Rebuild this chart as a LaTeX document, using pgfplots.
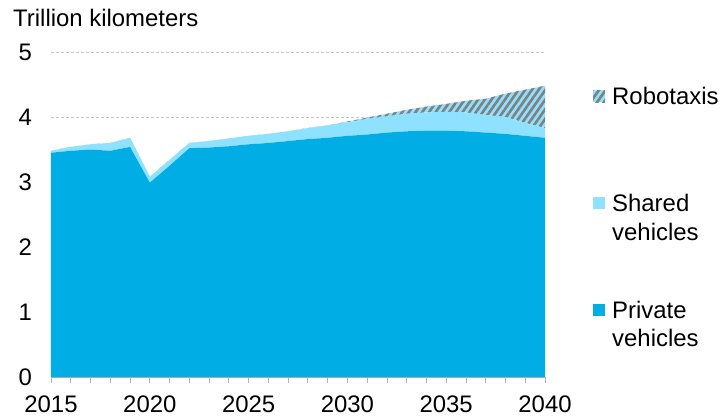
\documentclass[border=0pt]{standalone}
\usepackage{fontspec}
\setmainfont{Liberation Sans}
\usepackage{pgfplots}
\usepackage{pgfplotstable}
\pgfplotsset{compat=1.18}
\usetikzlibrary{patterns.meta}
\definecolor{pv}{RGB}{0,173,229}
\definecolor{sv}{RGB}{143,226,255}
\definecolor{rg}{RGB}{128,128,128}
\pgfplotstableread{
year p s r
2015 3.45 0.03 0
2016 3.48 0.06 0
2017 3.50 0.08 0
2018 3.48 0.12 0
2019 3.54 0.14 0
2020 2.99 0.09 0
2021 3.25 0.09 0
2022 3.52 0.08 0
2023 3.53 0.10 0
2024 3.55 0.12 0
2025 3.58 0.13 0
2026 3.60 0.14 0
2027 3.63 0.15 0
2028 3.66 0.17 0
2029 3.68 0.19 0
2030 3.71 0.21 0.01
2031 3.73 0.24 0.02
2032 3.76 0.25 0.04
2033 3.78 0.27 0.06
2034 3.79 0.28 0.09
2035 3.79 0.29 0.12
2036 3.78 0.29 0.18
2037 3.76 0.27 0.25
2038 3.74 0.26 0.36
2039 3.71 0.20 0.51
2040 3.68 0.15 0.65
}\data
\begin{document}
\fontsize{24}{28}\selectfont
\begin{tikzpicture}[x=1bp,y=1bp]
\path[use as bounding box] (-51,-41) rectangle (671,377);
\begin{axis}[
  at={(0,0)}, anchor=south west,
  scale only axis, width=494bp, height=325bp,
  xmin=2015, xmax=2040, ymin=0, ymax=5,
  stack plots=y,
  separate axis lines,
  axis x line*=bottom, axis y line*=left,
  x axis line style={draw=gray!60, line width=0.8bp},
  y axis line style={draw=none},
  xtick={2015,2020,...,2040}, minor x tick num=4,
  ytick={0,1,2,3,4,5},
  tick align=outside,
  major tick length=6bp, minor tick length=6bp,
  xtick style={draw=gray!60, line width=0.8bp},
  minor tick style={draw=gray!60, line width=0.8bp},
  ytick style={draw=none},
  ymajorgrids,
  grid style={draw=gray!45, line width=0.7bp, dash pattern=on 3bp off 2bp},
  /pgf/number format/assume math mode=true,
  /pgf/number format/1000 sep={},
  tick label style={font=\fontsize{24}{28}\selectfont},
  xticklabel style={anchor=north, inner sep=0pt, yshift=-13bp},
  yticklabel style={anchor=east, inner sep=0pt, xshift=-13bp},
]
\addplot[fill=pv, draw=none] table[x=year,y=p]{\data} \closedcycle;
\addplot[fill=sv, draw=none] table[x=year,y=s]{\data} \closedcycle;
\addplot[fill=sv, draw=none, postaction={pattern={Lines[angle=55,distance=5.5bp,line width=2.6bp]}, pattern color=rg}] table[x=year,y=r]{\data} \closedcycle;
\end{axis}
\node[anchor=west, inner sep=0pt] at (-38,359) {Trillion kilometers};
% legend
\fill[sv] (542,275) rectangle (554,287);
\fill[pattern={Lines[angle=55,distance=5.5bp,line width=2.6bp]}, pattern color=rg] (542,275) rectangle (554,287);
\node[anchor=west, inner sep=0pt] at (561,281) {Robotaxis};
\fill[sv] (542,168) rectangle (554,180);
\node[anchor=west, inner sep=0pt] at (561,174) {Shared};
\node[anchor=west, inner sep=0pt] at (561,145) {vehicles};
\fill[pv] (542,61) rectangle (554,73);
\node[anchor=west, inner sep=0pt] at (561,67) {Private};
\node[anchor=west, inner sep=0pt] at (561,39) {vehicles};
\end{tikzpicture}
\end{document}
